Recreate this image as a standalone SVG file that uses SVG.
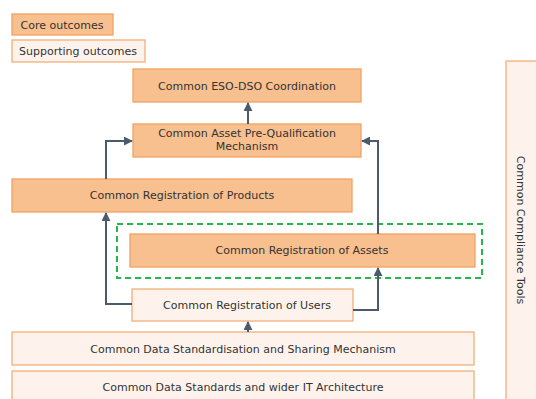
<svg xmlns="http://www.w3.org/2000/svg" width="536" height="399" viewBox="0 0 536 399">
<defs>
<style>
.core{fill:#F8BF8F;stroke:#F0A263;stroke-width:1.3}
.sup{fill:#FDF3EC;stroke:#F3AE78;stroke-width:1.3}
.t{font-family:"DejaVu Sans",Verdana,sans-serif;font-size:11px;fill:#333;text-anchor:middle}
.c{fill:none;stroke:#4B5B6B;stroke-width:2}
</style>
<marker id="ah" viewBox="0 0 10 10" refX="9" refY="5" markerWidth="4.5" markerHeight="4.5" orient="auto" markerUnits="strokeWidth">
<path d="M0,0 L10,5 L0,10 Z" fill="#4B5B6B"/>
</marker>
</defs>
<rect width="536" height="399" fill="#fff"/>
<g id="legend-core"><rect class="core" x="12" y="14" width="101" height="21"/><text class="t" x="62" y="28.5">Core outcomes</text></g>
<g id="legend-sup"><rect class="sup" x="12" y="40" width="133" height="22"/><text class="t" x="78" y="55">Supporting outcomes</text></g>
<g id="compliance"><rect class="sup" x="506" y="61" width="40" height="350"/><text class="t" transform="translate(517,230) rotate(90)">Common Compliance Tools</text></g>
<g id="eso"><rect class="core" x="133" y="69" width="228" height="33"/><text class="t" x="247" y="89.5">Common ESO-DSO Coordination</text></g>
<g id="prequal"><rect class="core" x="133" y="124" width="228" height="33"/><text class="t" x="247" y="137">Common Asset Pre-Qualification</text><text class="t" x="247" y="150">Mechanism</text></g>
<g id="products"><rect class="core" x="12" y="179" width="340" height="33"/><text class="t" x="182" y="199">Common Registration of Products</text></g>
<g id="assets-group"><rect x="117" y="224" width="365" height="54" fill="none" stroke="#22B84A" stroke-width="2" stroke-dasharray="6,4"/></g>
<g id="assets"><rect class="core" x="130" y="234" width="345" height="33"/><text class="t" x="302" y="254">Common Registration of Assets</text></g>
<g id="users"><rect class="sup" x="132" y="289" width="221" height="32"/><text class="t" x="247" y="308.5">Common Registration of Users</text></g>
<g id="sharing"><rect class="sup" x="12" y="332" width="462" height="33"/><text class="t" x="243" y="352.5">Common Data Standardisation and Sharing Mechanism</text></g>
<g id="itarch"><rect class="sup" x="12" y="371" width="462" height="40"/><text class="t" x="243" y="391">Common Data Standards and wider IT Architecture</text></g>
<g id="connectors">
<path class="c" d="M248,124 V103" marker-end="url(#ah)"/>
<path class="c" d="M106,179 V141 H132" marker-end="url(#ah)"/>
<path class="c" d="M378,234 V141 H362" marker-end="url(#ah)"/>
<path class="c" d="M132,304 H106 V213" marker-end="url(#ah)"/>
<path class="c" d="M353,310 H378 V268" marker-end="url(#ah)"/>
<path class="c" d="M248,332 V322" marker-end="url(#ah)"/>
</g>
</svg>
